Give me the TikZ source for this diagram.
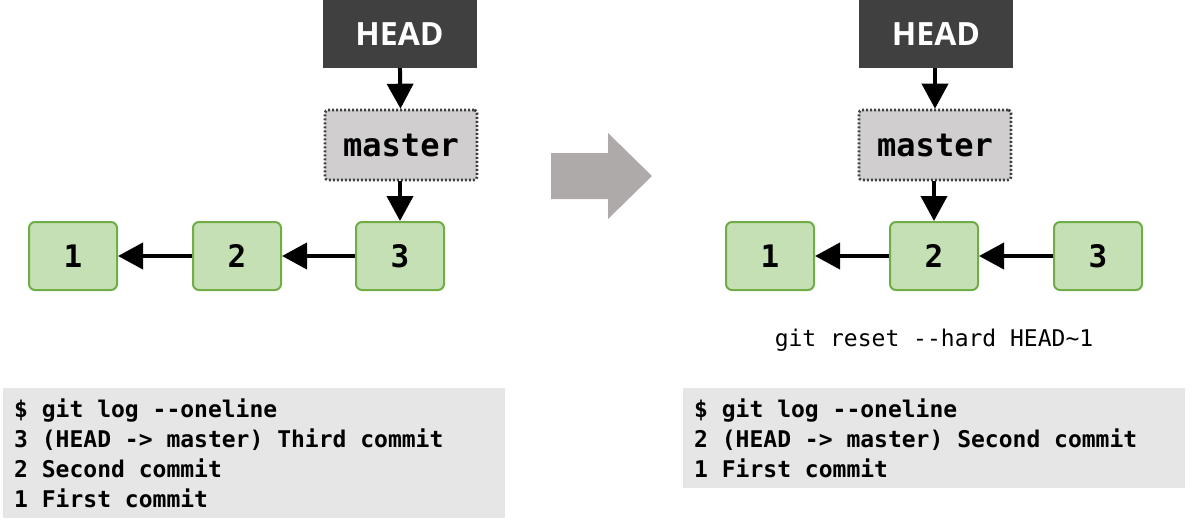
\documentclass[tikz,border=0pt]{standalone}
\usepackage{fontspec}
\setmainfont{Open Sans}
\newfontfamily\monofont[WordSpace={1,0,0}]{DejaVu Sans Mono}
\usetikzlibrary{arrows.meta,positioning}
\definecolor{headgray}{HTML}{404040}
\definecolor{mastergray}{HTML}{D0CECE}
\definecolor{commitgreen}{HTML}{C5E0B4}
\definecolor{commitedge}{HTML}{70AD47}
\definecolor{loggray}{HTML}{E7E6E6}
\definecolor{bigarrow}{HTML}{AEAAAA}
\newcommand{\monospaces}{\spaceskip=0.602em\xspaceskip=0.602em\relax}

\begin{document}
\begin{tikzpicture}[
  x=1pt, y=-1pt,
  headbox/.style={rectangle, fill=headgray, text=white,
    minimum width=154pt, minimum height=68pt,
    font=\fontsize{32}{38}\selectfont\bfseries},
  branch/.style={rectangle, rounded corners=3pt, fill=mastergray,
    draw=headgray, dash pattern=on 2pt off 2pt, line width=2.6pt,
    minimum width=152pt, minimum height=70pt,
    font=\monofont\fontsize{32}{36}\selectfont\bfseries},
  commit/.style={rectangle, rounded corners=6pt, fill=commitgreen,
    draw=commitedge, line width=2pt,
    minimum width=88pt, minimum height=68pt,
    font=\monofont\fontsize{31}{34}\selectfont\bfseries},
  logbox/.style={rectangle, fill=loggray, anchor=north west,
    minimum height=#1, inner xsep=11pt, text width=480pt, align=left,
    font=\monofont\fontsize{23}{30}\selectfont\bfseries},
  arr/.style={-{Triangle[length=25pt,width=26pt]}, line width=4pt, black}
]
\useasboundingbox (0,0) rectangle (1192,530);

% Left: before the reset
\node[headbox] (headL) at (399.5,34) {HEAD};
\node[branch] (masterL) at (401,145) {master};
\node[commit] (c1L) at (73,256) {1};
\node[commit] (c2L) at (237,256) {2};
\node[commit] (c3L) at (400,256) {3};
\draw[arr] (headL) -- (masterL);
\draw[arr] (masterL.south -| c3L) -- (c3L);
\draw[arr] (c3L) -- (c2L);
\draw[arr] (c2L) -- (c1L);
\node[logbox=130pt] (logL) at (3,388) {\monospaces
  \$ git log --oneline\\
  3 (HEAD -> master) Third commit\\
  2 Second commit\\
  1 First commit};

% Middle: big arrow
\fill[bigarrow] (551,153) -- (608,153) -- (608,133) -- (652,176)
  -- (608,219) -- (608,199) -- (551,199) -- cycle;

% Right: after the reset
\node[headbox] (headR) at (936,34) {HEAD};
\node[branch] (masterR) at (935,145) {master};
\node[commit] (c1R) at (770,256) {1};
\node[commit] (c2R) at (934,256) {2};
\node[commit] (c3R) at (1098,256) {3};
\draw[arr] (headR.south -| masterR) -- (masterR);
\draw[arr] (masterR.south -| c2R) -- (c2R);
\draw[arr] (c3R) -- (c2R);
\draw[arr] (c2R) -- (c1R);
\node[font=\monofont\fontsize{23}{26}\selectfont] (cmd) at (934,340)
  {git reset --hard HEAD\textasciitilde1};
\node[logbox=100pt] (logR) at (683,388) {\monospaces
  \$ git log --oneline\\
  2 (HEAD -> master) Second commit\\
  1 First commit};
\end{tikzpicture}
\end{document}
